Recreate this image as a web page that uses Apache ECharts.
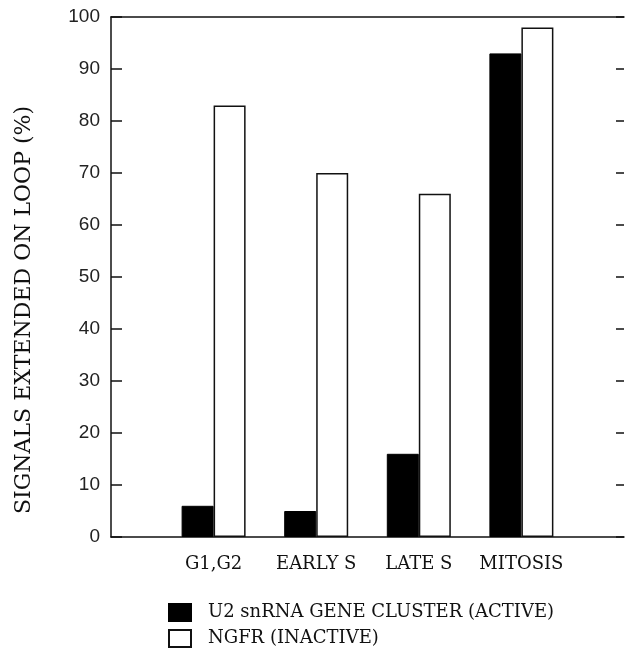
<!DOCTYPE html>
<html>
<head>
<meta charset="utf-8">
<script src="https://cdn.jsdelivr.net/npm/echarts@6/dist/echarts.min.js"></script>
<style>
html,body{margin:0;padding:0;background:#fff;}
#chart{width:627px;height:656px;}
</style>
</head>
<body>
<div id="chart"></div>
<script>
var categories = ['G1,G2', 'EARLY S', 'LATE S', 'MITOSIS'];
var activeValues = [6, 5, 16, 93];
var inactiveValues = [83, 70, 66, 98];
var seriesNames = ['U2 snRNA GENE CLUSTER (ACTIVE)', 'NGFR (INACTIVE)'];
var yTicks = [0, 10, 20, 30, 40, 50, 60, 70, 80, 90, 100];
var yTitle = 'SIGNALS EXTENDED ON LOOP (%)';

var axisCats = [''].concat(categories).concat(['']);
function pad(arr) { return [null].concat(arr).concat([null]); }

var chart = echarts.init(document.getElementById('chart'), null, {renderer: 'canvas'});
var serif = '"DejaVu Serif", serif';
var sans = '"Liberation Sans", Arial, sans-serif';
function legendFor(name, top) {
  return {
    orient: 'vertical', left: 168, top: top, padding: 0,
    itemWidth: 22, itemHeight: 17, itemGap: 8,
    icon: 'rect',
    textStyle: {fontFamily: serif, fontSize: 18, color: '#111', padding: [0, 0, 0, 12]},
    data: [name]
  };
}
chart.setOption({
  animation: false,
  backgroundColor: '#fff',
  grid: {left: 111, top: 17, right: 0, bottom: 119},
  legend: [legendFor(seriesNames[0], 603), legendFor(seriesNames[1], 629)],
  xAxis: [{
    type: 'category', data: axisCats, boundaryGap: false,
    axisLine: {lineStyle: {color: '#111', width: 1.5}},
    axisTick: {show: false},
    axisLabel: {fontFamily: serif, fontSize: 18, color: '#111', margin: 18, interval: 0}
  }, {
    type: 'category', data: axisCats, boundaryGap: false, position: 'top',
    axisLine: {show: true, onZero: false, lineStyle: {color: '#111', width: 1.5}},
    axisTick: {show: false}, axisLabel: {show: false}
  }],
  yAxis: [{
    type: 'value', min: 0, max: 100, interval: 10,
    name: yTitle, nameLocation: 'middle', nameRotate: 90, nameGap: 76,
    nameTextStyle: {fontFamily: serif, fontSize: 22, color: '#111', padding: [0, 66, 0, 0]},
    axisLine: {show: true, lineStyle: {color: '#111', width: 1.5}},
    axisTick: {show: true, inside: true, length: 11, lineStyle: {color: '#111', width: 1.5}},
    axisLabel: {fontFamily: sans, fontSize: 19, color: '#222', margin: 11,
      formatter: function (v) { return yTicks.indexOf(v) >= 0 ? String(v) : ''; }},
    splitLine: {show: false}
  }, {
    type: 'value', min: 0, max: 100, interval: 10, position: 'right',
    axisLine: {show: false},
    axisTick: {show: true, inside: true, length: 8, lineStyle: {color: '#111', width: 1.5}},
    axisLabel: {show: false},
    splitLine: {show: false}
  }],
  series: [{
    name: seriesNames[0], type: 'bar', data: pad(activeValues),
    barWidth: 32, barGap: '0%',
    itemStyle: {color: '#000', borderColor: '#000', borderWidth: 1}
  }, {
    name: seriesNames[1], type: 'bar', data: pad(inactiveValues),
    barWidth: 32, barGap: '0%',
    itemStyle: {color: '#fff', borderColor: '#111', borderWidth: 1.5}
  }]
});
</script>
</body>
</html>
